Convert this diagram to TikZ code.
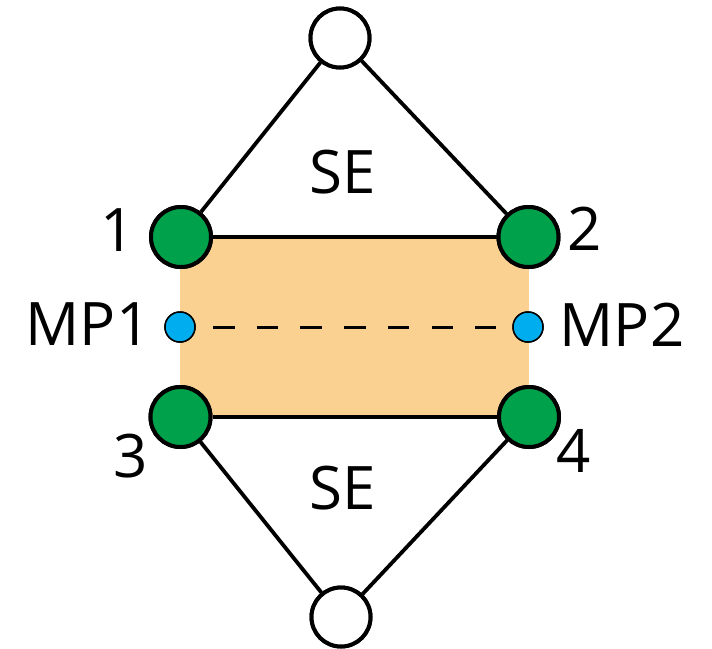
\documentclass[tikz,border=0pt]{standalone}
\usepackage{fontspec}
\setmainfont{Open Sans}
\definecolor{nodegreen}{RGB}{0,161,75}
\definecolor{bandorange}{RGB}{250,209,144}
\definecolor{pointblue}{RGB}{0,174,239}
\begin{document}
\begin{tikzpicture}[x=1pt,y=-1pt,
  link/.style={line width=3.8pt},
  rung/.style={line width=4.6pt},
  endnode/.style={circle,draw,line width=4pt,fill=white,minimum size=59pt,inner sep=0pt},
  cornernode/.style={circle,draw,line width=4pt,fill=nodegreen,minimum size=60pt,inner sep=0pt},
  midpoint/.style={circle,draw,line width=1.5pt,fill=pointblue,minimum size=30pt,inner sep=0pt},
  lbl/.style={inner sep=0pt,font=\fontsize{60}{66}\selectfont}]
\useasboundingbox (0,0) rectangle (712,648);
% shaded band between the two corner rows
\fill[bandorange] (180,237) rectangle (529,417);
% nodes
\node[endnode] (top) at (340,38) {};
\node[endnode] (bot) at (341,617) {};
\node[cornernode] (c1) at (181,237) {};
\node[cornernode] (c2) at (528.5,237) {};
\node[cornernode] (c3) at (180.5,417) {};
\node[cornernode] (c4) at (529,417) {};
\node[midpoint] (m1) at (180,327) {};
\node[midpoint] (m2) at (528,327) {};
% connectors
\draw[link] (top) -- (c1);
\draw[link] (top) -- (c2);
\draw[rung] (c1) -- (c2);
\draw[rung] (c3) -- (c4);
\draw[link] (c3) -- (bot);
\draw[link] (c4) -- (bot);
\draw[line width=3pt,dash pattern=on 21.5pt off 22.2pt] ([xshift=33pt]m1.center) -- ([xshift=-32pt]m2.center);
% redraw nodes above connectors
\node[endnode] at (top) {};
\node[endnode] at (bot) {};
\node[cornernode] at (c1) {};
\node[cornernode] at (c2) {};
\node[cornernode] at (c3) {};
\node[cornernode] at (c4) {};
\node[midpoint] at (m1) {};
\node[midpoint] at (m2) {};
% labels
\node[lbl] (l1) at (118,230) {1};
\node[lbl] (l2) at (585,229) {2};
\node[lbl] (l3) at (131,456) {3};
\node[lbl] (l4) at (574,451) {4};
\node[lbl] (lse1) at (343,172) {SE};
\node[lbl] (lse2) at (343,488) {SE};
\node[lbl] (lmp1) at (88,324) {MP1};
\node[lbl] (lmp2) at (622,325) {MP2};
\end{tikzpicture}
\end{document}
